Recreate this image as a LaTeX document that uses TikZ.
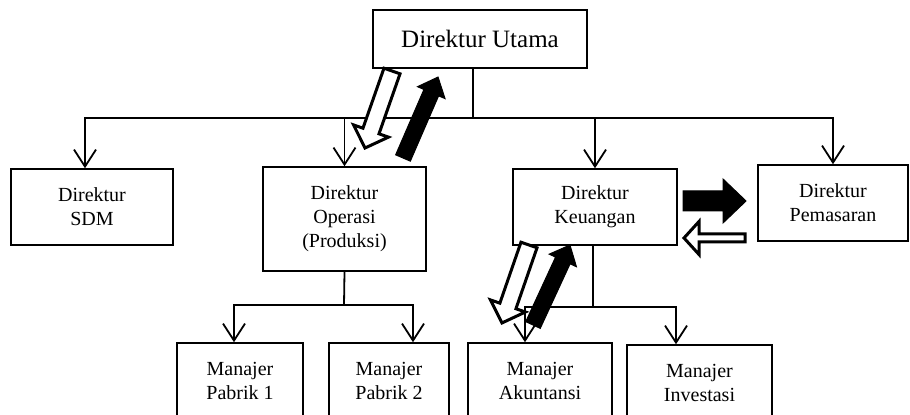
\documentclass[tikz,border=0pt]{standalone}
\usepackage{fontspec}
\setmainfont{Liberation Serif}
\usetikzlibrary{arrows.meta}
\tikzset{
  box/.style={draw, line width=0.75pt, align=center, inner sep=2pt, font=\fontsize{10}{12}\selectfont},
  link/.style={line width=0.9pt},
  conn/.style={line width=0.9pt, -{Straight Barb[length=8.5pt,width=11pt]}},
  openblk/.style={draw, fill=white, line width=1.5pt},
  fullblk/.style={draw, fill=black, line width=0.5pt},
  pics/fatarrow/.style n args={4}{code={
    \path[pic actions] (0,-#2) -- ({#1-#4},-#2) -- ({#1-#4},-#3) -- (#1,0)
      -- ({#1-#4},#3) -- ({#1-#4},#2) -- (0,#2) -- cycle;
  }},
}
\begin{document}
\begin{tikzpicture}[x=0.5pt, y=-0.5pt]
  \useasboundingbox (0,0) rectangle (910,415);
  \clip (0,0) rectangle (910,415);
  \node[box, font=\fontsize{12.5}{15}\selectfont, minimum width=107pt, minimum height=29pt] (utama) at (480,39) {Direktur Utama};
  \node[box, minimum width=81pt, minimum height=38pt] (sdm) at (92,207) {Direktur\\SDM};
  \node[box, minimum width=81.5pt, minimum height=52pt] (operasi) at (344.5,219) {Direktur\\Operasi\\(Produksi)};
  \node[box, minimum width=82pt, minimum height=38pt] (keuangan) at (595,207) {Direktur\\Keuangan};
  \node[box, minimum width=75pt, minimum height=38pt] (pemasaran) at (833,203) {Direktur\\Pemasaran};
  \node[box, minimum width=63pt, minimum height=38pt] (pabrik1) at (240,381) {Manajer\\Pabrik 1};
  \node[box, minimum width=60pt, minimum height=38pt] (pabrik2) at (389,381) {Manajer\\Pabrik 2};
  \node[box, minimum width=72pt, minimum height=38pt] (akuntansi) at (540,381) {Manajer\\Akuntansi};
  \node[box, minimum width=72.5pt, minimum height=38pt] (investasi) at (699.5,383) {Manajer\\Investasi};
  \coordinate (topbus) at (473,118);
  \coordinate (opsbus) at (344,305);
  \coordinate (keubus) at (593,307);
  % garis komando
  \draw[link] (utama.south -| topbus) -- (topbus);
  \draw[conn] (topbus) -| ([xshift=-3.5pt]sdm.north);
  \draw[conn] (topbus) -| (operasi.north);
  \draw[conn] (topbus) -| (keuangan.north);
  \draw[conn] (topbus) -| (pemasaran.north);
  \draw[link] (operasi.south) -- (opsbus);
  \draw[conn] (opsbus) -| ([xshift=-3pt]pabrik1.north);
  \draw[conn] (opsbus) -| ([xshift=12pt]pabrik2.north);
  \draw[link] (keuangan.south -| keubus) -- (keubus);
  \draw[conn] (keubus) -| ([xshift=-7.5pt]akuntansi.north);
  \draw[conn] (keubus) -| ([xshift=-11.75pt]investasi.north);
  % panah blok
  \pic[openblk, rotate=250.7] at (392,71) {fatarrow={81.6}{8.5}{18.5}{18}};
  \pic[fullblk, rotate=66.6] at (403,158) {fatarrow={88.2}{8}{15}{17}};
  \pic[openblk, rotate=250.9] at (529,245) {fatarrow={82.5}{8.5}{18.5}{18}};
  \pic[fullblk, rotate=65.2] at (533,325) {fatarrow={88.1}{8}{15}{17}};
  \pic[fullblk] at (683,201) {fatarrow={63}{10}{22}{23}};
  \pic[openblk, rotate=180] at (745,238) {fatarrow={61}{4}{16.5}{15}};
\end{tikzpicture}
\end{document}
